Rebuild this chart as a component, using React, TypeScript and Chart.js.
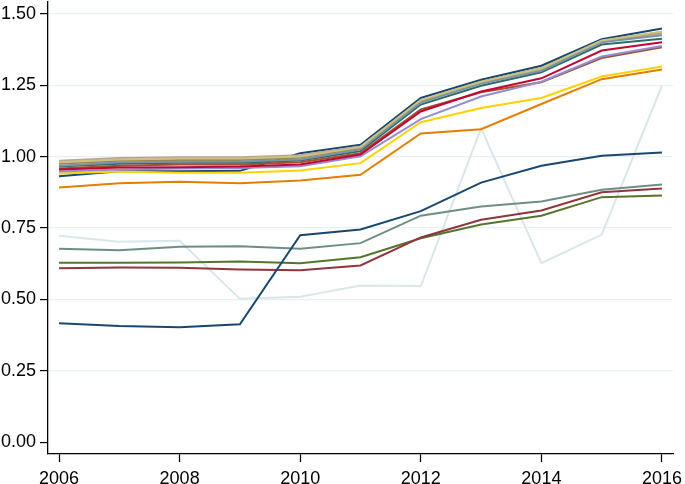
import React, { useEffect, useRef } from "react";
import { Chart, registerables } from "chart.js";

Chart.register(...registerables);

const YEARS = [2006, 2007, 2008, 2009, 2010, 2011, 2012, 2013, 2014, 2015, 2016];
const X_TICKS = [2006, 2008, 2010, 2012, 2014, 2016];
const Y_TICKS = [0, 0.25, 0.5, 0.75, 1.0, 1.25, 1.5];

const navyLow = [0.417, 0.407, 0.403, 0.413, 0.725, 0.745, 0.809, 0.909, 0.968, 1.003, 1.014];
const maroon = [0.609, 0.612, 0.611, 0.605, 0.602, 0.619, 0.717, 0.779, 0.811, 0.875, 0.888];
const forestGreen = [0.628, 0.628, 0.629, 0.633, 0.627, 0.648, 0.714, 0.762, 0.793, 0.858, 0.864];
const dkorange = [0.892, 0.907, 0.912, 0.907, 0.916, 0.936, 1.081, 1.096, 1.184, 1.271, 1.305];
const teal = [0.677, 0.672, 0.684, 0.686, 0.677, 0.697, 0.793, 0.825, 0.843, 0.884, 0.902];
const cranberry = [0.955, 0.962, 0.963, 0.965, 0.972, 1.007, 1.158, 1.228, 1.274, 1.371, 1.4];
const lavender = [0.948, 0.955, 0.958, 0.96, 0.966, 1.001, 1.131, 1.21, 1.262, 1.35, 1.387];
const khaki = [0.98, 0.99, 0.993, 0.993, 1.0, 1.033, 1.198, 1.262, 1.309, 1.406, 1.437];
const sienna = [0.958, 0.968, 0.972, 0.972, 0.98, 1.012, 1.165, 1.225, 1.26, 1.345, 1.383];
const emidblue = [0.968, 0.98, 0.982, 0.983, 0.99, 1.025, 1.189, 1.256, 1.3, 1.4, 1.425];
const emerald = [0.965, 0.975, 0.978, 0.978, 0.986, 1.019, 1.182, 1.248, 1.295, 1.392, 1.412];
const brown = [0.975, 0.985, 0.988, 0.988, 0.996, 1.03, 1.196, 1.262, 1.309, 1.405, 1.436];
const erose = [0.985, 0.995, 0.998, 0.998, 1.005, 1.035, 1.195, 1.258, 1.305, 1.402, 1.432];
const gold = [0.941, 0.948, 0.943, 0.943, 0.951, 0.977, 1.12, 1.17, 1.205, 1.28, 1.315];
const bluishgray = [0.723, 0.702, 0.705, 0.502, 0.509, 0.549, 0.547, 1.099, 0.627, 0.727, 1.248];
const navyHigh = [0.931, 0.949, 0.949, 0.95, 1.012, 1.041, 1.205, 1.269, 1.318, 1.411, 1.448];

const SERIES: { name: string; values: number[]; color: string }[] = [
  { name: "s1", values: navyLow, color: "#1a476f" },
  { name: "s2", values: maroon, color: "#90353b" },
  { name: "s3", values: forestGreen, color: "#55752f" },
  { name: "s4", values: dkorange, color: "#e37e00" },
  { name: "s5", values: teal, color: "#6e8e84" },
  { name: "s6", values: cranberry, color: "#c10534" },
  { name: "s7", values: lavender, color: "#938dd2" },
  { name: "s8", values: khaki, color: "#cac27e" },
  { name: "s9", values: sienna, color: "#a0522d" },
  { name: "s10", values: emidblue, color: "#7b92a8" },
  { name: "s11", values: emerald, color: "#2d6d66" },
  { name: "s12", values: brown, color: "#9c8847" },
  { name: "s13", values: erose, color: "#bfa19c" },
  { name: "s14", values: gold, color: "#ffd200" },
  { name: "s15", values: bluishgray, color: "#d9e6eb" },
  { name: "s16", values: navyHigh, color: "#1a476f" },
];

export default function App() {
  const ref = useRef<HTMLCanvasElement | null>(null);

  useEffect(() => {
    if (!ref.current) return;
    Chart.defaults.font.family = "'Liberation Sans', Arial, Helvetica, sans-serif";
    Chart.defaults.font.size = 18;
    Chart.defaults.color = "#000";
    const chart = new Chart(ref.current, {
      type: "line",
      data: {
        datasets: SERIES.map((s) => ({
          label: s.name,
          data: YEARS.map((y, i) => ({ x: y, y: s.values[i] })),
          borderColor: s.color,
          backgroundColor: s.color,
          borderWidth: 2,
          pointRadius: 0,
          tension: 0,
          fill: false,
        })),
      },
      options: {
        animation: false,
        responsive: false,
        maintainAspectRatio: false,
        layout: { padding: { top: 2, right: 12, left: 0, bottom: 0 } },
        plugins: {
          legend: { display: false },
          tooltip: { enabled: false },
        },
        scales: {
          x: {
            type: "linear",
            min: 2005.817,
            max: 2016.183,
            afterBuildTicks: (scale: any) => {
              scale.ticks = X_TICKS.map((v) => ({ value: v }));
            },
            afterFit: (scale: any) => {
              scale.height = 30;
              scale.paddingLeft = 0;
              scale.paddingRight = 0;
            },
            ticks: {
              padding: 6,
              maxRotation: 0,
              autoSkip: false,
              callback: (v: any) => String(v),
              color: "#000",
              font: { size: 18 },
            },
            grid: {
              drawOnChartArea: false,
              drawTicks: true,
              tickLength: 8,
              tickColor: "#000",
              tickWidth: 1.2,
            },
            border: { display: true, color: "#000", width: 1.3 },
          },
          y: {
            type: "linear",
            min: -0.041,
            max: 1.541,
            afterBuildTicks: (scale: any) => {
              scale.ticks = Y_TICKS.map((v) => ({ value: v }));
            },
            afterFit: (scale: any) => {
              scale.width = 48;
              scale.paddingTop = 0;
              scale.paddingBottom = 0;
            },
            ticks: {
              padding: 4,
              autoSkip: false,
              callback: (v: any) => Number(v).toFixed(2),
              color: "#000",
              font: { size: 18 },
            },
            grid: {
              drawOnChartArea: true,
              drawTicks: true,
              tickLength: 8,
              tickColor: "#000",
              tickWidth: 1.2,
              color: (ctx: any) => (ctx.tick && ctx.tick.value === 0 ? "rgba(0,0,0,0)" : "#e8f0f2"),
              lineWidth: 1.2,
            },
            border: { display: true, color: "#000", width: 1.3 },
          },
        },
      },
    });
    return () => chart.destroy();
  }, []);

  return (
    <div style={{ position: "fixed", left: 0, top: 0, width: 685, height: 484, background: "#fff" }}>
      <canvas ref={ref} width={685} height={484} style={{ width: 685, height: 484, display: "block" }} />
    </div>
  );
}
